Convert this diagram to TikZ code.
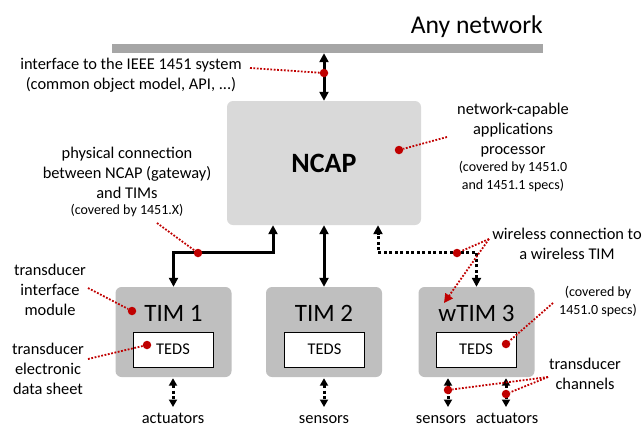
\documentclass[tikz,border=0pt]{standalone}
\usepackage{fontspec}
\setmainfont{Carlito}
\usetikzlibrary{arrows.meta}

\definecolor{notered}{RGB}{192,0,0}
\definecolor{ncapfill}{RGB}{217,217,217}
\definecolor{timfill}{RGB}{191,191,191}
\definecolor{busfill}{RGB}{166,166,166}

\tikzset{
  labeltext/.style={align=center, inner sep=0pt, font=\fontsize{16.4}{20}\selectfont},
  notetext/.style={align=center, inner sep=0pt, font=\fontsize{14}{18}\selectfont},
  busbar/.style={fill=busfill, inner sep=0pt, minimum width=431pt, minimum height=9pt},
  ncapbox/.style={fill=ncapfill, rounded corners=6pt, minimum width=194pt, minimum height=124pt, font=\bfseries\fontsize{28}{30}\selectfont},
  timbox/.style={fill=timfill, rounded corners=6pt, minimum width=116pt, minimum height=90pt, inner sep=0pt},
  timtitle/.style={inner sep=0pt, font=\fontsize{25}{28}\selectfont},
  tedsbox/.style={draw, fill=white, line width=1pt, minimum width=80pt, minimum height=35pt, inner sep=0pt, font=\fontsize{16.4}{20}\selectfont},
  wired/.style={line width=3pt, {Triangle[length=9pt,width=9pt]}-{Triangle[length=9pt,width=9pt]}},
  wireless/.style={wired, dash pattern=on 3pt off 2.5pt},
  channel/.style={line width=3pt, dash pattern=on 3pt off 2.5pt, {Triangle[length=7.5pt,width=8pt]}-{Triangle[length=7.5pt,width=8pt]}},
  pointer/.style={notered, line width=1.8pt, dash pattern=on 1.8pt off 1.6pt},
  reddot/.style={circle, fill=notered, inner sep=0pt, minimum size=8.5pt},
}

\begin{document}
\begin{tikzpicture}[x=1pt,y=-1pt]
  \useasboundingbox (0,0) rectangle (643,426);

  %Shape: network bus
  \node[busbar] (bus) at (327.5,48.5) {};
  \node[anchor=base east, inner sep=0pt, font=\fontsize{25.6}{30}\selectfont] (anynet) at (543,33) {Any network};

  %Shape: NCAP and TIMs
  \node[ncapbox] (ncap) at (324,163) {NCAP};
  \node[timbox] (tim1) at (173.5,332) {};
  \node[timbox] (tim2) at (324,332) {};
  \node[timbox] (wtim3) at (476.5,332) {};
  \node[timtitle] (tim1 name) at (173.5,313) {TIM 1};
  \node[timtitle] (tim2 name) at (324,313) {TIM 2};
  \node[timtitle] (wtim3 name) at (476.5,313) {wTIM 3};
  \node[tedsbox] (teds1) at (173,349.5) {TEDS};
  \node[tedsbox] (teds2) at (324.5,349.5) {TEDS};
  \node[tedsbox] (teds3) at (476,349.5) {TEDS};

  % Text Node: channel ends
  \node[labeltext, anchor=base] (act1) at (173,423) {actuators};
  \node[labeltext, anchor=base] (sens2) at (324,423) {sensors};
  \node[labeltext, anchor=base] (sens3) at (441,423) {sensors};
  \node[labeltext, anchor=base] (act3) at (507,423) {actuators};
  \coordinate (act1 arrow) at (173,407);
  \coordinate (sens2 arrow) at (324,407);
  \coordinate (sens3 arrow) at (448,407);
  \coordinate (act3 arrow) at (506,407);

  %Straight Lines: connections
  \draw[wired] (bus.south -| ncap.north) -- (ncap.north);
  \draw[wired] (tim1.north) -- ++(0,-34) -| ([xshift=-51pt]ncap.south);
  \draw[wired] (ncap.south) -- (tim2.north);
  \draw[wireless] (wtim3.north) -- ++(0,-34) -| ([xshift=54pt]ncap.south);
  \draw[channel] ([yshift=-1pt]tim1.south -| act1 arrow) -- (act1 arrow);
  \draw[channel] ([yshift=-1pt]tim2.south -| sens2 arrow) -- (sens2 arrow);
  \draw[channel] ([yshift=-1pt]wtim3.south -| sens3 arrow) -- (sens3 arrow);
  \draw[channel] ([yshift=-1pt]wtim3.south -| act3 arrow) -- (act3 arrow);

  % Text Node: annotations
  \node[labeltext] (iface) at (131,75) {interface to the IEEE 1451 system\\(common object model, API, ...)};
  \node[labeltext] (ncap label) at (513,130.5) {network-capable\\applications\\processor};
  \node[notetext] (ncap note) at (513,177) {(covered by 1451.0\\and 1451.1 specs)};
  \node[labeltext] (phys label) at (127,173) {physical connection\\between NCAP (gateway)\\and TIMs};
  \node[notetext] (phys note) at (127,211) {(covered by 1451.X)};
  \node[labeltext] (wl label) at (567,243.5) {wireless connection to\\a wireless TIM};
  \node[labeltext] (tim label) at (50,290) {transducer\\interface\\module};
  \node[labeltext] (teds label) at (48,369) {transducer\\electronic\\data sheet};
  \node[notetext] (teds note) at (598,302) {(covered by\\1451.0 specs)};
  \node[labeltext] (chan label) at (585,374) {transducer\\channels};

  %Shape: red markers
  \node[reddot] (ifdot) at (324,73) {};
  \node[reddot] (ncapdot) at (399,150) {};
  \node[reddot] (physdot) at (198,253) {};
  \node[reddot] (wldot) at (457,253) {};
  \node[reddot] (timdot) at (132,311) {};
  \node[reddot] (tedsdot) at (147,345) {};
  \node[reddot] (teds3dot) at (506,344) {};
  \node[reddot] (sensdot) at (448,390) {};
  \node[reddot] (actdot) at (506,394) {};

  \coordinate (iface end) at (250,68);
  \coordinate (ncap end) at (447,137);
  \coordinate (phys end) at (157,223);
  \coordinate (wl end) at (489,239);
  \coordinate (wl tip) at (444,303);
  \coordinate (tim end) at (88,288);
  \coordinate (teds end) at (88,359);
  \coordinate (teds3 end) at (553,303);
  \coordinate (chan end) at (548,377);

  %Straight Lines: pointers
  \draw[pointer] (iface end) -- (ifdot);
  \draw[pointer] (ncap end) -- (ncapdot);
  \draw[pointer] (phys end) -- (physdot);
  \draw[pointer] (wl end) -- (wldot);
  \draw[pointer, -{Triangle[length=9pt,width=9pt]}] (wl end) -- (wl tip);
  \draw[pointer] (tim end) -- (timdot);
  \draw[pointer] (teds end) -- (tedsdot);
  \draw[pointer] (teds3 end) -- (teds3dot);
  \draw[pointer] (chan end) -- (sensdot);
  \draw[pointer] (chan end) -- (actdot);
\end{tikzpicture}
\end{document}
